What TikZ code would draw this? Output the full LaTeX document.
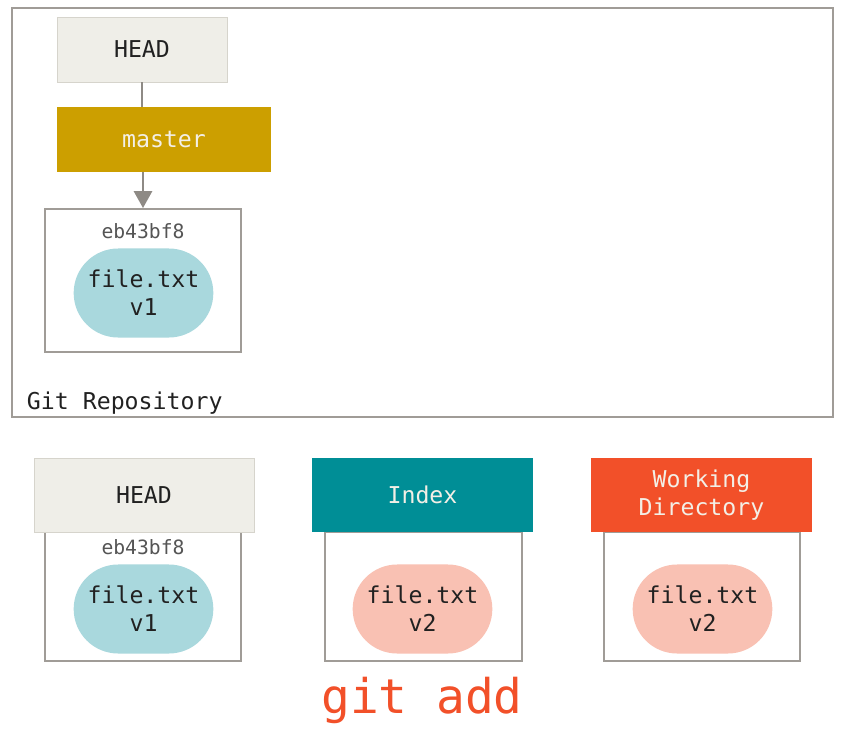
\documentclass[tikz,border=0pt]{standalone}
\usepackage{fontspec}
\setmonofont{DejaVu Sans Mono}
\usetikzlibrary{
    positioning,
    shapes.misc,
    arrows.meta
}
\definecolor{CinzaBorda}{HTML}{A09C97}
\definecolor{CinzaSeta}{HTML}{8E8A85}
\definecolor{CinzaTexto}{HTML}{555555}
\definecolor{Areia}{HTML}{EFEEE8}
\definecolor{AreiaBorda}{HTML}{D6D4CC}
\definecolor{Ouro}{HTML}{CC9F00}
\definecolor{Petroleo}{HTML}{008E96}
\definecolor{Laranja}{HTML}{F25029}
\definecolor{AzulClaro}{HTML}{A9D8DD}
\definecolor{Salmao}{HTML}{F9C1B3}
\definecolor{Creme}{HTML}{F3EFE6}

\begin{document}
\begin{tikzpicture}[
    x=0.025cm, y=-0.025cm,
    every node/.style={font=\ttfamily\fontsize{16.5}{20}\selectfont, text=black!87},
    repobox/.style={draw=CinzaBorda, line width=1.4pt,
        minimum width=20.525cm, minimum height=10.225cm},
    treebox/.style={draw=CinzaBorda, line width=1.4pt, fill=white,
        minimum width=4.9cm},
    refbox/.style={fill=Areia, draw=AreiaBorda, line width=0.4pt},
    areabox/.style={minimum width=5.5cm, minimum height=1.85cm,
        align=center, text=Creme},
    blob/.style={rounded rectangle, minimum width=3.725cm,
        minimum height=2.225cm, align=center},
    hash/.style={font=\ttfamily\fontsize{14}{16}\selectfont, text=CinzaTexto},
    ligacao/.style={draw=CinzaSeta, line width=1.4pt},
    ponteiro/.style={ligacao, -{Triangle[length=12pt,width=13pt]}}
]
    \useasboundingbox (0,0) rectangle (868,737);

    % repositorio
    \node[repobox] (repo) at (422.5,212.5) {};
    \node[anchor=base west] (repolbl) at (22,409) {Git Repository};

    \node[refbox, minimum width=4.25cm, minimum height=1.625cm] (head) at (142,49.5) {HEAD};
    \node[fill=Ouro, minimum width=5.35cm, minimum height=1.625cm, text=Creme] (master) at (164,139.5) {master};
    \node[treebox, minimum height=3.575cm] (commit) at (143,280.5) {};
    \node[hash] (commitid) at (143,231) {eb43bf8};
    \node[blob, fill=AzulClaro] (blobum) at (143.5,293) {file.txt\\v1};

    \draw[ligacao] (head.south) -- (head.south |- master.north);
    \draw[ponteiro] (master.south -| commit.north) -- (commit.north);

    % as tres arvores
    \node[treebox, minimum height=3.225cm] (headtree) at (143,596.5) {};
    \node[refbox, areabox, text=black!87] (headlbl) at (144,495) {HEAD};
    \node[hash] (headid) at (143,547) {eb43bf8};
    \node[blob, fill=AzulClaro] (headblob) at (143.5,609) {file.txt\\v1};

    \node[treebox, minimum height=3.225cm] (indextree) at (423.5,596.5) {};
    \node[areabox, fill=Petroleo] (indexlbl) at (422.5,495) {Index};
    \node[blob, fill=Salmao] (indexblob) at (422.5,609) {file.txt\\v2};

    \node[treebox, minimum height=3.225cm] (worktree) at (702,596.5) {};
    \node[areabox, fill=Laranja] (worklbl) at (701.5,495) {Working\\Directory};
    \node[blob, fill=Salmao] (workblob) at (702.5,609) {file.txt\\v2};

    \node[anchor=base, text=Laranja, font=\ttfamily\fontsize{34}{40}\selectfont]
        (comando) at (422,713) {git add};
\end{tikzpicture}
\end{document}
